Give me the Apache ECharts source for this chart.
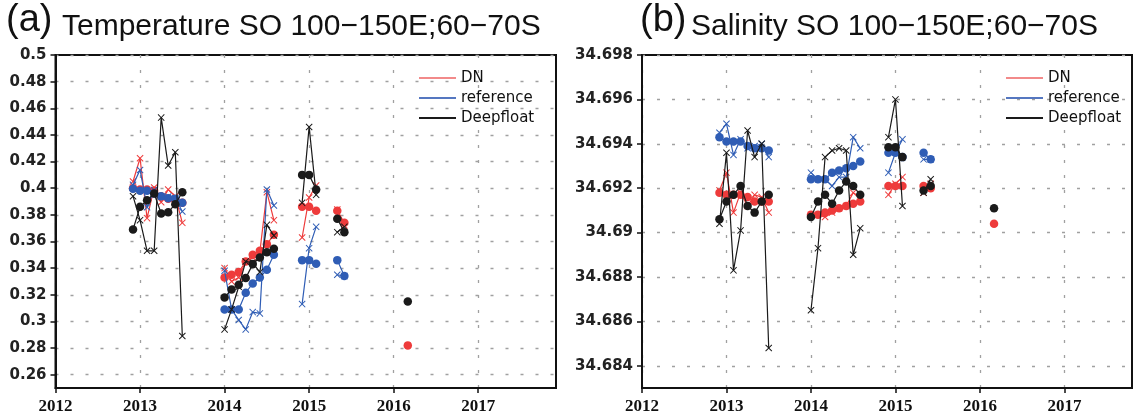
<!DOCTYPE html>
<html><head><meta charset="utf-8">
<script src="https://cdn.jsdelivr.net/npm/echarts@6/dist/echarts.min.js"></script>
<style>html,body{margin:0;padding:0;background:#fff}#c{width:1135px;height:415px}</style>
</head><body><div id="c"></div>
<script>
// ---- tick labels ----
const yearTicks = [2012, 2013, 2014, 2015, 2016, 2017];
const tempTicks = [0.26, 0.28, 0.3, 0.32, 0.34, 0.36, 0.38, 0.4, 0.42, 0.44, 0.46, 0.48, 0.5];
const salTicks = [34.684, 34.686, 34.688, 34.69, 34.692, 34.694, 34.696, 34.698];

// ---- time stamps (null = gap between survey periods) ----
const times = [2012.917, 2013.0, 2013.083, 2013.167, 2013.25, 2013.333, 2013.417, 2013.5, null,
  2014.0, 2014.083, 2014.167, 2014.25, 2014.333, 2014.417, 2014.5, 2014.583, null,
  2014.917, 2015.0, 2015.083, null, 2015.333, 2015.417, null, 2016.167];

// ---- Temperature ----
const tempDN_dot = [0.400, 0.399, 0.399, 0.398, 0.394, 0.392, 0.391, 0.389, null,
  0.333, 0.335, 0.337, 0.345, 0.350, 0.353, 0.358, 0.365, null,
  0.386, 0.386, 0.383, null, 0.383, 0.374, null, 0.282];
const tempDN_x = [0.405, 0.4225, 0.3775, 0.4005, 0.3895, 0.399, 0.394, 0.374, null,
  0.340, 0.330, 0.333, 0.345, 0.348, 0.352, 0.397, 0.376, null,
  0.363, 0.393, 0.402, null, 0.384, 0.372, null, null];
const tempRef_dot = [0.3995, 0.398, 0.398, 0.396, 0.394, 0.3925, 0.392, 0.389, null,
  0.309, 0.309, 0.309, 0.3215, 0.3285, 0.333, 0.3387, 0.350, null,
  0.346, 0.346, 0.3433, null, 0.346, 0.334, null, null];
const tempRef_x = [0.4025, 0.4137, 0.3857, 0.3987, 0.3937, 0.3937, 0.3925, 0.3825, null,
  0.338, 0.309, 0.301, 0.294, 0.307, 0.306, 0.399, 0.387, null,
  0.313, 0.355, 0.371, null, 0.335, 0.334, null, null];
const tempDF_dot = [0.369, 0.386, 0.391, 0.396, 0.381, 0.382, 0.388, 0.397, null,
  0.318, 0.324, 0.3275, 0.3325, 0.343, 0.348, 0.352, 0.3545, null,
  0.410, 0.410, 0.399, null, 0.377, 0.367, null, 0.315];
const tempDF_x = [0.394, 0.376, 0.353, 0.353, 0.453, 0.417, 0.427, 0.289, null,
  0.294, 0.309, 0.326, 0.345, 0.344, 0.337, 0.3725, 0.3645, null,
  0.389, 0.446, 0.395, null, 0.367, 0.371, null, null];

// ---- Salinity ----
const salDN_dot = [34.6918, 34.6917, 34.6917, 34.6917, 34.6916, 34.6914, 34.6914, 34.6914, null,
  34.6908, 34.6908, 34.6909, 34.6910, 34.6911, 34.6912, 34.6913, 34.6914, null,
  34.6921, 34.6921, 34.6921, null, 34.6921, 34.6920, null, 34.6904];
const salDN_x = [34.6919, 34.6927, 34.6909, 34.6918, 34.6912, 34.6917, 34.6916, 34.6909, null,
  34.6908, 34.6908, 34.6907, 34.6909, 34.6911, 34.6912, 34.6918, 34.6916, null,
  34.6917, 34.6922, 34.6925, null, 34.6918, 34.6922, null, null];
const salRef_dot = [34.6943, 34.6941, 34.6941, 34.6941, 34.6939, 34.6938, 34.6938, 34.6937, null,
  34.6924, 34.6924, 34.6924, 34.6927, 34.6928, 34.6929, 34.6930, 34.6932, null,
  34.6936, 34.6936, 34.6934, null, 34.6936, 34.6933, null, null];
const salRef_x = [34.6945, 34.6949, 34.6935, 34.6942, 34.6938, 34.6939, 34.6940, 34.6934, null,
  34.6927, 34.6924, 34.6924, 34.6921, 34.6925, 34.6925, 34.6943, 34.6938, null,
  34.6927, 34.6936, 34.6942, null, 34.6933, 34.6933, null, null];
const salDF_dot = [34.6906, 34.6914, 34.6917, 34.6921, 34.6912, 34.6909, 34.6914, 34.6917, null,
  34.6907, 34.6914, 34.6917, 34.6913, 34.6919, 34.6923, 34.6921, 34.6917, null,
  34.69385, 34.69385, 34.6934, null, 34.6919, 34.6921, null, 34.6911];
const salDF_x = [34.6904, 34.6936, 34.6883, 34.6901, 34.6946, 34.6934, 34.6940, 34.6848, null,
  34.6865, 34.6893, 34.6934, 34.6937, 34.6938, 34.6937, 34.6890, 34.6902, null,
  34.6943, 34.6960, 34.6912, null, 34.6918, 34.6924, null, null];

const COLORS = { DN: '#ee3b3b', reference: '#2f5db5', Deepfloat: '#1a1a1a' };
const LEGEND_COLORS = { DN: '#f28a8a', reference: '#5577c0', Deepfloat: '#1a1a1a' };
const XSYM = 'path://M0,1L1,0L5,4L9,0L10,1L6,5L10,9L9,10L5,6L1,10L0,9L4,5Z';

function pts(vals) {
  return times.map((t, i) => [t === null ? '-' : t, (t === null || vals[i] === null) ? '-' : vals[i]]);
}
function mk(name, vals, kind, gi) {
  const c = COLORS[name];
  return {
    type: 'line', name: name, xAxisIndex: gi, yAxisIndex: gi,
    data: pts(vals), connectNulls: false, silent: true, animation: false,
    symbol: kind === 'dot' ? 'circle' : XSYM,
    symbolSize: kind === 'dot' ? 8.5 : 7,
    showAllSymbol: true, legendIcon: 'rect',
    lineStyle: { color: c, width: 1.2 },
    itemStyle: { color: c, borderWidth: 0 },
    z: name === 'Deepfloat' ? 4 : (name === 'reference' ? 3 : 2)
  };
}

const series = [
  mk('DN', tempDN_dot, 'dot', 0), mk('DN', tempDN_x, 'x', 0),
  mk('reference', tempRef_dot, 'dot', 0), mk('reference', tempRef_x, 'x', 0),
  mk('Deepfloat', tempDF_dot, 'dot', 0), mk('Deepfloat', tempDF_x, 'x', 0),
  mk('DN', salDN_dot, 'dot', 1), mk('DN', salDN_x, 'x', 1),
  mk('reference', salRef_dot, 'dot', 1), mk('reference', salRef_x, 'x', 1),
  mk('Deepfloat', salDF_dot, 'dot', 1), mk('Deepfloat', salDF_x, 'x', 1)
];

const gridLine = { show: true, lineStyle: { color: '#a0a0a0', width: 1.3, type: [3, 12] } };
const tickLbl = { fontFamily: 'DejaVu Sans', fontWeight: 'bold', fontSize: 15, color: '#222', margin: 9,
  formatter: v => String(v) };
function xAxis(gi, max) {
  return {
    type: 'value', gridIndex: gi, min: 2012, max: max,
    axisLine: { show: true, lineStyle: { color: '#111', width: 2 } },
    axisTick: { show: true, length: 5, lineStyle: { color: '#111', width: 1.5 }, customValues: yearTicks },
    axisLabel: { customValues: yearTicks, formatter: v => String(v), fontFamily: 'Liberation Sans Narrow',
      fontWeight: 'bold', fontSize: 17, color: '#111', margin: 10 },
    splitLine: gridLine
  };
}
function yAxis(gi, min, max, ticks) {
  return {
    type: 'value', gridIndex: gi, min: min, max: max,
    axisLine: { show: true, lineStyle: { color: '#111', width: 2 } },
    axisTick: { show: true, length: 5, lineStyle: { color: '#111', width: 1.5 }, customValues: ticks },
    axisLabel: Object.assign({ customValues: ticks }, tickLbl),
    splitLine: gridLine
  };
}
const legendText = { fontFamily: 'DejaVu Sans', fontSize: 15, color: '#111', lineHeight: 18 };
function legend(left) {
  return {
    orient: 'vertical', left: left, top: 64, itemWidth: 37, itemHeight: 2, itemGap: 2, icon: 'rect',
    selectedMode: false, textStyle: legendText,
    data: ['DN', 'reference', 'Deepfloat'].map(n => ({ name: n, icon: 'rect', itemStyle: { color: LEGEND_COLORS[n] } }))
  };
}

const option = {
  animation: false,
  backgroundColor: '#fff',
  grid: [
    { left: 55.5, right: 1135 - 556, top: 55, bottom: 27, show: true, borderColor: '#111', borderWidth: 2 },
    { left: 642, right: 3, top: 55, bottom: 27, show: true, borderColor: '#111', borderWidth: 2 }
  ],
  xAxis: [xAxis(0, 2017.92), xAxis(1, 2017.8)],
  yAxis: [yAxis(0, 0.25, 0.5, tempTicks), yAxis(1, 34.683, 34.698, salTicks)],
  legend: [legend(414), legend(1001)],
  graphic: [
    { type: 'text', left: 6, top: 2, style: { text: '(a)', font: '38px "Liberation Sans"', fill: '#111' } },
    { type: 'text', left: 62, top: 12, style: { text: 'Temperature SO 100\u2212150E;60\u221270S', font: '30px "Liberation Sans"', fill: '#111' } },
    { type: 'text', left: 640, top: 2, style: { text: '(b)', font: '38px "Liberation Sans"', fill: '#111' } },
    { type: 'text', left: 691, top: 12, style: { text: 'Salinity SO 100\u2212150E;60\u221270S', font: '30px "Liberation Sans"', fill: '#111' } }
  ],
  series: series
};
const chart = echarts.init(document.getElementById('c'), null, { renderer: 'canvas' });
chart.setOption(option);
</script></body></html>
